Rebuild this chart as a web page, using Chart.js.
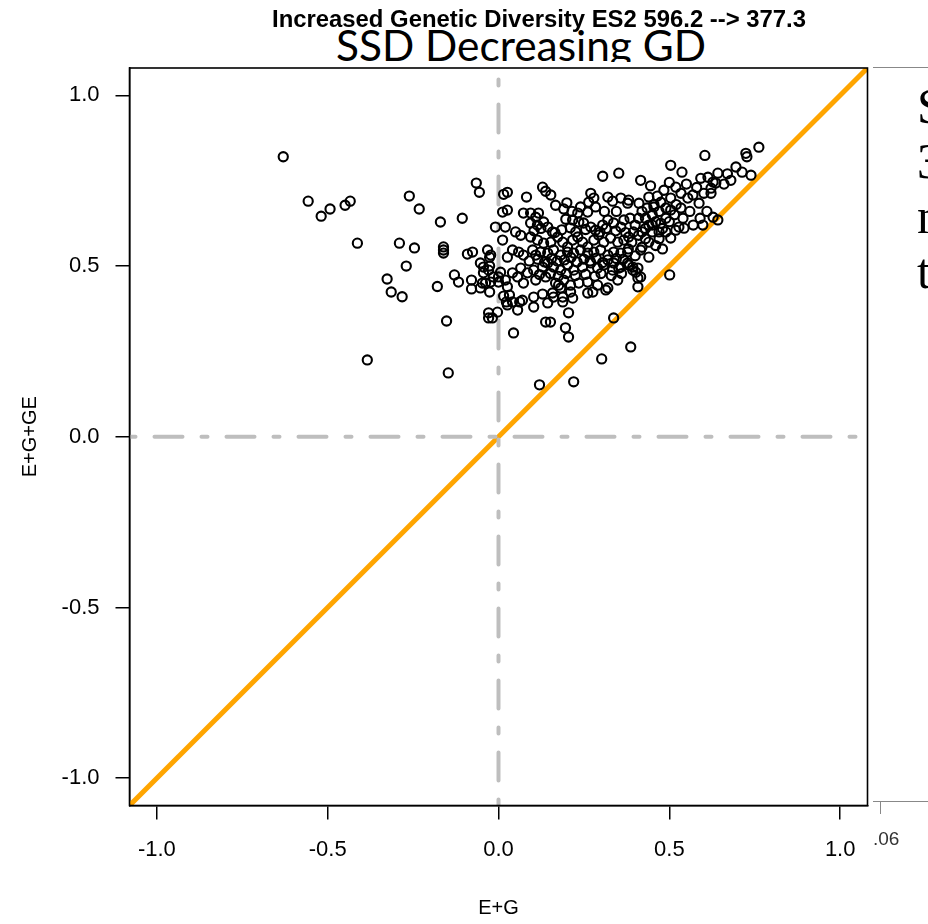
<!DOCTYPE html>
<html>
<head>
<meta charset="utf-8">
<script src="https://cdn.jsdelivr.net/npm/chart.js@4.4.1/dist/chart.umd.min.js"></script>
<style>
  html, body { margin: 0; padding: 0; background: #fff; }
  #page { position: relative; width: 928px; height: 924px; overflow: hidden; }
  #chart { position: absolute; left: 0; top: 0; }
  .txt { position: absolute; white-space: nowrap; transform-origin: 0 0; }
  #slideClip { position: absolute; left: 0; top: 0; width: 928px; height: 62px; overflow: hidden; }
  #slideTitle { left: 336px; top: 24px; font-family: Lato, "Open Sans", sans-serif; font-size: 42px; line-height: 42px; color: #000; }
  #plotTitle { left: 272px; top: 8px; font: bold 23px/23px "Liberation Sans", Arial, sans-serif; color: #000; }
  #rTop { position: absolute; left: 873px; top: 67px; width: 55px; border-top: 1.5px solid #888; }
  #rBot { position: absolute; left: 873px; top: 801px; width: 55px; border-top: 1.5px solid #888; }
  #rTick { position: absolute; left: 880px; top: 802px; height: 12px; border-left: 1.5px solid #888; }
  #rLab { left: 873px; top: 829px; font: 19px/19px "Liberation Sans", Arial, sans-serif; color: #333; }
  #rText { left: 917px; top: 79px; font: 50px/55px "Liberation Serif", "Times New Roman", serif; color: #000; }
</style>
</head>
<body>
<div id="page">
  <div id="slideClip"><span id="slideTitle" class="txt">SSD Decreasing GD</span></div>
  <canvas id="chart" width="928" height="924"></canvas>
  <span id="plotTitle" class="txt">Increased Genetic Diversity ES2 596.2 --&gt; 377.3</span>
  <div id="rTop"></div>
  <div id="rBot"></div>
  <div id="rTick"></div>
  <span id="rLab" class="txt">.06</span>
  <div id="rText" class="txt">S<br>3<br>n<br>t</div>
</div>
<script>
// E+G (x) and E+G+GE (y) values
const egVals = [
  // left of zero
  -0.630, -0.557, -0.519, -0.493, -0.449, -0.434, -0.413, -0.384, -0.326, -0.314,
  -0.282, -0.270, -0.290, -0.246, -0.261, -0.232, -0.170, -0.106, -0.161, -0.161,
  -0.161, -0.179, -0.152, -0.147, -0.065, -0.056, -0.091, -0.076, -0.129, -0.117,
  -0.079, -0.079, -0.053, -0.044, -0.032, -0.026, -0.026, -0.047, -0.023, -0.026,
  -0.029, -0.029, -0.003,
  // around zero
  0.026, 0.015, 0.012, 0.026, -0.009, 0.020, 0.012, 0.026, 0.000, 0.020,
  0.026, 0.023, 0.044, 0.032, 0.056, 0.062, -0.023, -0.044, -0.029, -0.015,
  0.006, 0.041, -0.038, 0.000, -0.053, 0.015, 0.041, 0.026, -0.018, 0.070,
  0.041, 0.059, 0.073, 0.050, 0.065, 0.082,
  // middle cluster
  0.129, 0.138, 0.153, 0.270, 0.279, 0.264, 0.284, 0.320, 0.334, 0.358,
  0.378, 0.305, 0.352, 0.167, 0.191, 0.240, 0.232, 0.261, 0.197, 0.073,
  0.094, 0.109, 0.117, 0.094, 0.114, 0.132, 0.144, 0.158, 0.217, 0.235,
  0.249, 0.270, 0.284, 0.305, 0.320, 0.337, 0.358, 0.367,
  0.094, 0.114, 0.132, 0.153, 0.173, 0.188, 0.202, 0.217, 0.232, 0.246,
  0.261, 0.279, 0.293, 0.308, 0.328, 0.349, 0.367, 0.381,
  0.100, 0.109, 0.123, 0.144, 0.161, 0.182, 0.202, 0.220, 0.240, 0.261,
  0.279, 0.299, 0.320, 0.337, 0.358, 0.378,
  0.065, 0.085, 0.103, 0.129, 0.144, 0.161, 0.182, 0.202, 0.220, 0.246,
  0.270, 0.290, 0.308, 0.334, 0.358, 0.378,
  0.056, 0.073, 0.109, 0.138, 0.167, 0.191, 0.211, 0.235, 0.261, 0.290,
  0.320, 0.349,
  0.103, 0.129, 0.158, 0.188, 0.217, 0.261, 0.276, 0.314,
  0.103, 0.144, 0.188, 0.205, 0.176, 0.182, 0.138, 0.152, 0.196, 0.337,
  0.205, 0.387, 0.302, 0.220, 0.120, 0.211, 0.161,
  0.320, 0.337, 0.352, 0.381, 0.393, 0.408, 0.408, 0.416,
  // middle cluster, in-between rows
  0.104, 0.124, 0.165, 0.185, 0.210, 0.226, 0.255, 0.297, 0.315, 0.343,
  0.372,
  0.090, 0.115, 0.135, 0.155, 0.172, 0.193, 0.212, 0.230, 0.250, 0.268,
  0.286, 0.305, 0.345, 0.365,
  0.120, 0.152, 0.175, 0.198, 0.225, 0.255, 0.282, 0.300, 0.330, 0.360,
  0.200, 0.215, 0.310, 0.345,
  // right cluster
  0.416, 0.381, 0.411, 0.440, 0.455, 0.475, 0.504, 0.484, 0.519, 0.534,
  0.554, 0.569, 0.504, 0.534, 0.540, 0.528, 0.519, 0.543, 0.504, 0.598,
  0.628, 0.642, 0.440, 0.416, 0.393, 0.402, 0.408, 0.501, 0.504, 0.537,
  0.601, 0.622, 0.587, 0.622,
  0.420, 0.430, 0.450, 0.470, 0.490, 0.440, 0.460, 0.480, 0.420, 0.450,
  0.470, 0.430, 0.490, 0.400, 0.410, 0.460, 0.440, 0.480, 0.420, 0.395,
  0.390, 0.475, 0.455, 0.435, 0.500, 0.385, 0.400, 0.380,
  0.450, 0.470, 0.430, 0.410, 0.490, 0.515, 0.520, 0.560, 0.580, 0.550,
  0.465, 0.445, 0.500, 0.570, 0.590, 0.610,
  // top right
  0.762, 0.724, 0.727, 0.604, 0.695, 0.713, 0.739, 0.592, 0.613, 0.628,
  0.642, 0.636, 0.680, 0.660, 0.670
];
const eggeVals = [
  0.820, 0.690, 0.646, 0.667, 0.678, 0.690, 0.567, 0.225, 0.462, 0.424,
  0.410, 0.500, 0.567, 0.553, 0.705, 0.667, 0.629, 0.640, 0.556, 0.547,
  0.538, 0.440, 0.339, 0.187, 0.743, 0.716, 0.535, 0.541, 0.474, 0.453,
  0.459, 0.433, 0.509, 0.480, 0.547, 0.526, 0.500, 0.450, 0.453, 0.424,
  0.363, 0.348, 0.365,
  0.716, 0.710, 0.658, 0.664, 0.614, 0.614, 0.576, 0.526, 0.468, 0.459,
  0.439, 0.395, 0.304, 0.415, 0.371, 0.395, 0.532, 0.497, 0.488, 0.468,
  0.482, 0.480, 0.450, 0.453, 0.436, 0.412, 0.395, 0.386, 0.348, 0.400,
  0.547, 0.541, 0.532, 0.600, 0.590, 0.702,
  0.731, 0.719, 0.708, 0.713, 0.699, 0.687, 0.673, 0.702, 0.690, 0.699,
  0.684, 0.763, 0.772, 0.678, 0.667, 0.673, 0.655, 0.658, 0.637, 0.655,
  0.655, 0.643, 0.655, 0.626, 0.620, 0.629, 0.614, 0.600, 0.635, 0.629,
  0.626, 0.614, 0.605, 0.620, 0.635, 0.626, 0.614, 0.635,
  0.585, 0.576, 0.567, 0.570, 0.585, 0.570, 0.556, 0.576, 0.585, 0.570,
  0.556, 0.576, 0.591, 0.570, 0.582, 0.570, 0.576, 0.585,
  0.547, 0.532, 0.541, 0.538, 0.547, 0.532, 0.541, 0.538, 0.547, 0.538,
  0.541, 0.547, 0.532, 0.541, 0.538, 0.541,
  0.494, 0.480, 0.488, 0.497, 0.509, 0.497, 0.488, 0.503, 0.488, 0.497,
  0.509, 0.494, 0.503, 0.488, 0.497, 0.509,
  0.468, 0.450, 0.459, 0.468, 0.450, 0.459, 0.444, 0.450, 0.453, 0.444,
  0.436, 0.459,
  0.409, 0.418, 0.421, 0.409, 0.406, 0.421, 0.424, 0.430,
  0.380, 0.392, 0.395, 0.363, 0.444, 0.436, 0.336, 0.336, 0.319, 0.348,
  0.292, 0.263, 0.228, 0.161, 0.152, 0.424, 0.409,
  0.518, 0.509, 0.494, 0.503, 0.488, 0.494, 0.465, 0.468,
  0.603, 0.610, 0.598, 0.606, 0.612, 0.600, 0.607, 0.600, 0.610, 0.603,
  0.598,
  0.515, 0.520, 0.512, 0.522, 0.515, 0.518, 0.525, 0.512, 0.520, 0.515,
  0.523, 0.510, 0.522, 0.520,
  0.475, 0.478, 0.470, 0.478, 0.472, 0.476, 0.470, 0.478, 0.472, 0.478,
  0.685, 0.660, 0.660, 0.660,
  0.751, 0.693, 0.684, 0.702, 0.673, 0.687, 0.699, 0.722, 0.731, 0.713,
  0.699, 0.708, 0.664, 0.670, 0.640, 0.614, 0.605, 0.611, 0.582, 0.620,
  0.643, 0.635, 0.526, 0.547, 0.497, 0.482, 0.439, 0.474, 0.795, 0.775,
  0.713, 0.713, 0.684, 0.728,
  0.660, 0.640, 0.650, 0.660, 0.640, 0.620, 0.630, 0.610, 0.600, 0.600,
  0.580, 0.580, 0.600, 0.620, 0.640, 0.560, 0.570, 0.550, 0.555, 0.600,
  0.570, 0.625, 0.680, 0.670, 0.630, 0.640, 0.530, 0.550,
  0.620, 0.600, 0.610, 0.590, 0.670, 0.650, 0.680, 0.660, 0.730, 0.740,
  0.705, 0.735, 0.745, 0.620, 0.640, 0.660,
  0.848, 0.830, 0.820, 0.824, 0.790, 0.775, 0.766, 0.757, 0.760, 0.746,
  0.772, 0.743, 0.751, 0.740, 0.770
];

const axisRange = [-1.08, 1.08];
const xTicks = [-1.0, -0.5, 0.0, 0.5, 1.0];
const yTicks = [-1.0, -0.5, 0.0, 0.5, 1.0];

const points = egVals.map((x, i) => ({ x: x, y: eggeVals[i] }));

const boxPlugin = {
  id: 'box',
  afterDraw(chart) {
    const { ctx, chartArea: a } = chart;
    ctx.save();
    ctx.strokeStyle = '#000';
    ctx.lineWidth = 1.6;
    ctx.strokeRect(a.left, a.top, a.right - a.left, a.bottom - a.top);
    ctx.restore();
  }
};

const tickFont = { family: '"Liberation Sans", Arial, sans-serif', size: 22 };
const titleFont = { family: '"Liberation Sans", Arial, sans-serif', size: 20 };

new Chart(document.getElementById('chart'), {
  type: 'scatter',
  data: {
    datasets: [
      {
        data: points,
        order: 0,
        pointRadius: 4.6,
        pointBorderWidth: 2.1,
        pointBorderColor: '#000',
        pointBackgroundColor: 'rgba(0,0,0,0)'
      },
      {
        type: 'line',
        data: [{ x: axisRange[0], y: 0 }, { x: axisRange[1], y: 0 }],
        order: 1,
        clip: 0,
        borderColor: '#bebebe',
        borderWidth: 4,
        borderDash: [6, 19, 28, 19],
        borderCapStyle: 'round',
        pointRadius: 0
      },
      {
        type: 'line',
        data: [{ x: 0, y: axisRange[0] }, { x: 0, y: axisRange[1] }],
        order: 1,
        clip: 0,
        borderColor: '#bebebe',
        borderWidth: 4,
        borderDash: [6, 19, 28, 19],
        borderCapStyle: 'round',
        pointRadius: 0
      },
      {
        type: 'line',
        data: [{ x: axisRange[0], y: axisRange[0] }, { x: axisRange[1], y: axisRange[1] }],
        order: 2,
        clip: 0,
        borderColor: '#ffa500',
        borderWidth: 5,
        pointRadius: 0
      }
    ]
  },
  options: {
    responsive: false,
    animation: false,
    events: [],
    devicePixelRatio: 1,
    layout: { padding: { top: 68, right: 60.5, left: 0, bottom: 0 } },
    plugins: { legend: { display: false }, tooltip: { enabled: false } },
    scales: {
      x: {
        type: 'linear',
        min: axisRange[0],
        max: axisRange[1],
        afterBuildTicks: s => { s.ticks = xTicks.map(v => ({ value: v })); },
        afterFit: s => { s.height = 118.5; },
        grid: { drawOnChartArea: false, drawTicks: true, tickLength: 14, color: '#000', lineWidth: 1.5 },
        border: { display: true, color: '#000', width: 1.5 },
        ticks: { font: tickFont, color: '#000', padding: 17, maxRotation: 0, callback: v => v.toFixed(1) },
        title: { display: true, text: 'E+G', font: titleFont, color: '#000', padding: { top: 0, bottom: 4 } }
      },
      y: {
        type: 'linear',
        min: axisRange[0],
        max: axisRange[1],
        afterBuildTicks: s => { s.ticks = yTicks.map(v => ({ value: v })); },
        afterFit: s => { s.width = 129.5; },
        grid: { drawOnChartArea: false, drawTicks: true, tickLength: 14, color: '#000', lineWidth: 1.5 },
        border: { display: true, color: '#000', width: 1.5 },
        ticks: { font: tickFont, color: '#000', padding: 16, callback: v => v.toFixed(1) },
        title: { display: true, text: 'E+G+GE', font: titleFont, color: '#000', padding: { top: 18, bottom: 0 } }
      }
    }
  },
  plugins: [boxPlugin]
});

function fitWidth(id, w) {
  const el = document.getElementById(id);
  const k = w / el.getBoundingClientRect().width;
  el.style.transform = 'scaleX(' + k + ')';
}
fitWidth('slideTitle', 370);
fitWidth('plotTitle', 534);
</script>
</body>
</html>
